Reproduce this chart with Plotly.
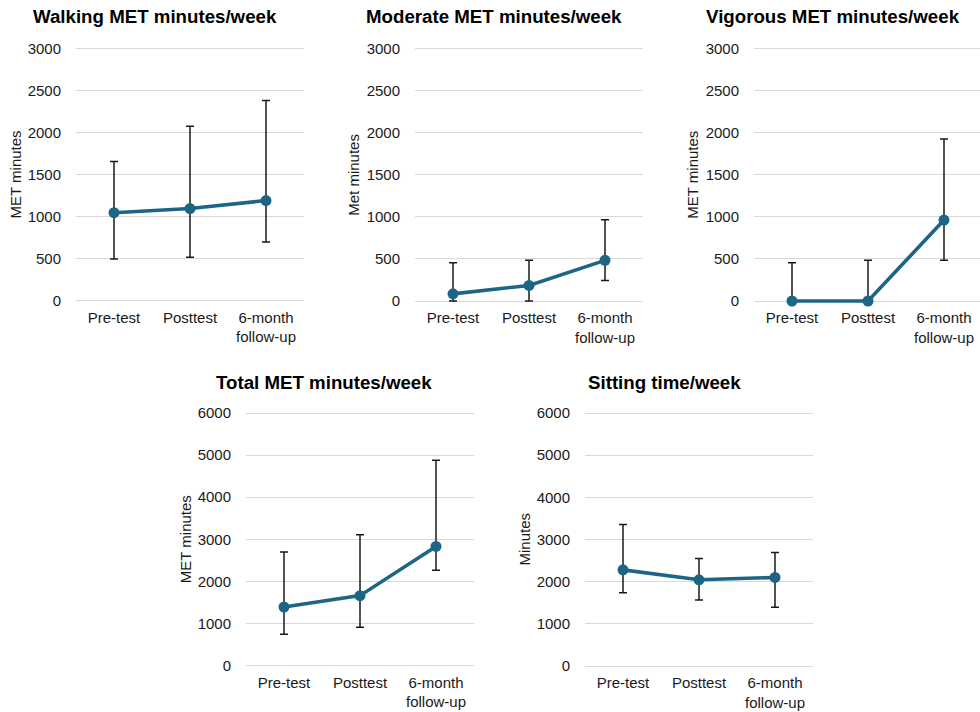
import plotly.graph_objects as go

categories = ["Pre-test", "Posttest", "6-month<br>follow-up"]

titles = ["Walking MET minutes/week", "Moderate MET minutes/week", "Vigorous MET minutes/week",
          "Total MET minutes/week", "Sitting time/week"]
y_titles = ["MET minutes", "Met minutes", "MET minutes", "MET minutes", "Minutes"]

walking_mean = [1045, 1095, 1190]
walking_upper = [1655, 2075, 2380]
walking_lower = [495, 515, 695]

moderate_mean = [85, 185, 483]
moderate_upper = [455, 483, 965]
moderate_lower = [0, 0, 245]

vigorous_mean = [0, 0, 962]
vigorous_upper = [455, 483, 1925]
vigorous_lower = [0, 0, 483]

total_mean = [1390, 1660, 2830]
total_upper = [2700, 3105, 4880]
total_lower = [740, 910, 2265]

sitting_mean = [2280, 2045, 2100]
sitting_upper = [3355, 2550, 2690]
sitting_lower = [1740, 1565, 1395]

series = [
    (walking_mean, walking_upper, walking_lower),
    (moderate_mean, moderate_upper, moderate_lower),
    (vigorous_mean, vigorous_upper, vigorous_lower),
    (total_mean, total_upper, total_lower),
    (sitting_mean, sitting_upper, sitting_lower),
]
y_max = [3000, 3000, 3000, 6000, 6000]
y_dtick = [500, 500, 500, 1000, 1000]

W, H = 980, 712
# plot areas in pixels: (left, right, top, bottom)
boxes = [
    (76, 304, 48.5, 300.5),
    (415, 643, 48.5, 301),
    (754, 980, 48.5, 301),
    (246, 474, 413, 665.5),
    (585, 813, 413, 666),
]
title_pos = [(31, 17), (364, 17), (704, 17), (214, 382), (586, 382)]

LINE = "#1c6585"
FONT = "Liberation Sans, Arial, sans-serif"
TXT = "#1a1a1a"
PADPX = 3  # extra pixels so the edge gridlines (0 and max) are drawn

fig = go.Figure()
layout = dict(width=W, height=H, autosize=False,
              margin=dict(l=0, r=0, t=0, b=0, pad=0, autoexpand=False),
              paper_bgcolor="white", plot_bgcolor="white", showlegend=False,
              annotations=[])

for i, (mean, up, lo) in enumerate(series):
    n = i + 1
    xa = "x" if n == 1 else f"x{n}"
    ya = "y" if n == 1 else f"y{n}"
    plus = [u - m for u, m in zip(up, mean)]
    minus = [m - l for m, l in zip(mean, lo)]
    fig.add_trace(go.Scatter(
        x=categories, y=mean, xaxis=xa, yaxis=ya, mode="lines+markers",
        line=dict(color=LINE, width=3.6), marker=dict(color=LINE, size=11),
        cliponaxis=False,
        error_y=dict(type="data", symmetric=False, array=plus, arrayminus=minus,
                     color="#1a1a1a", thickness=1.5, width=4),
    ))
    l, r, t, b = boxes[i]
    xr = [-0.5, 2.5] if r - l >= 228 else [-0.5, -0.5 + 3 * (r - l) / 228]
    pad = y_max[i] * PADPX / (b - t)
    layout["xaxis" if n == 1 else f"xaxis{n}"] = dict(
        domain=[l / W, r / W], anchor=ya, type="category", range=xr,
        showgrid=False, zeroline=False, showline=False, ticks="", automargin=False,
        tickfont=dict(family=FONT, size=15, color=TXT), ticklabelstandoff=6 - PADPX,
    )
    layout["yaxis" if n == 1 else f"yaxis{n}"] = dict(
        domain=[1 - (b + PADPX) / H, 1 - (t - PADPX) / H], anchor=xa,
        range=[-pad, y_max[i] + pad],
        dtick=y_dtick[i], tick0=0, showgrid=True, gridcolor="#d9d9d9", gridwidth=1,
        zeroline=False, showline=False, ticks="", automargin=False,
        tickfont=dict(family=FONT, size=15, color=TXT), ticklabelstandoff=14,
    )
    tx, ty = title_pos[i]
    layout["annotations"].append(dict(
        text=f"<b>{titles[i]}</b>", x=tx / W, y=1 - ty / H, xref="paper", yref="paper",
        xanchor="left", yanchor="middle", showarrow=False,
        font=dict(family=FONT, size=18.7, color="#000000")))
    layout["annotations"].append(dict(
        text=y_titles[i], x=(l - 61) / W, y=1 - (t + b) / 2 / H, xref="paper", yref="paper",
        xanchor="center", yanchor="middle", textangle=-90, showarrow=False,
        font=dict(family=FONT, size=15, color=TXT)))

fig.update_layout(**layout)
fig.write_html("out.html", config={"responsive": False})
